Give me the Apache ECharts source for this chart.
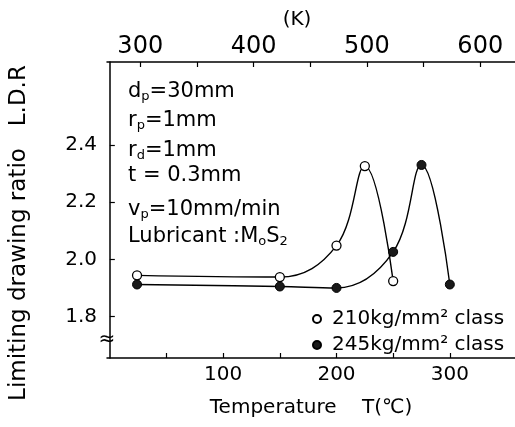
<!DOCTYPE html>
<html><head><meta charset="utf-8">
<script src="https://cdn.jsdelivr.net/npm/echarts@6/dist/echarts.min.js"></script>
<style>html,body{margin:0;padding:0;background:#fff}#c{width:515px;height:427px}</style>
</head><body><div id="c"></div>
<script>
const FONT = "'DejaVu Sans','Noto Sans CJK SC',sans-serif";
// data (Temperature in °C, limiting drawing ratio)
const temp210 = [24, 150, 200, 225, 250];
const ldr210 = [1.944, 1.938, 2.048, 2.326, 1.924];
const temp245 = [24, 150, 200, 250, 275, 300];
const ldr245 = [1.912, 1.905, 1.900, 2.026, 2.330, 1.912];
const seriesNames = ['210kg/mm² class', '245kg/mm² class'];
// axes
const xTickC = [50, 100, 150, 200, 250, 300];
const xLabelC = [100, 200, 300];
const topTickK = [300, 350, 400, 450, 500, 550, 600];
const topLabelK = [300, 400, 500, 600];
const yTicks = [1.8, 2.0, 2.2, 2.4];
const K0 = 273.15;
const X_MIN = -2.5, X_MAX = 357.5, Y_MIN = 1.655, Y_MAX = 2.69;
// annotation lines
const notes = ['d{s|p}=30mm', 'r{s|p}=1mm', 'r{s|d}=1mm', 't = 0.3mm', 'v{s|p}=10mm/min', 'Lubricant :M{s|o}S{s|2}'];
const noteY = [92, 121, 151, 176, 210, 237];

const zip = (a, b) => a.map((v, i) => [v, b[i]]);
const txt = { color: '#000', fontFamily: FONT };

const chart = echarts.init(document.getElementById('c'), null, { renderer: 'canvas' });
chart.setOption({
  animation: false,
  backgroundColor: '#fff',
  grid: { left: 107, right: 0, top: 62, bottom: 69, containLabel: false },
  xAxis: [
    {
      type: 'value', position: 'bottom', min: X_MIN, max: X_MAX,
      axisLine: { lineStyle: { color: '#000', width: 1.5 } },
      axisTick: { inside: true, length: 5, customValues: xTickC, lineStyle: { color: '#000', width: 1.2 } },
      axisLabel: { customValues: xLabelC, fontSize: 20, margin: 7, ...txt },
      splitLine: { show: false },
      name: 'Temperature    T(℃)', nameLocation: 'middle', nameGap: 40,
      nameTextStyle: { fontSize: 20, ...txt }
    },
    {
      type: 'value', position: 'top', min: X_MIN + K0, max: X_MAX + K0,
      axisLine: { lineStyle: { color: '#000', width: 1.5 } },
      axisTick: { inside: true, length: 5, customValues: topTickK, lineStyle: { color: '#000', width: 1.2 } },
      axisLabel: { customValues: topLabelK, fontSize: 24, margin: 3, ...txt },
      splitLine: { show: false },
      name: '(K)', nameLocation: 'middle', nameGap: 30,
      nameTextStyle: { fontSize: 20, padding: [0, 28, 0, 0], ...txt }
    }
  ],
  yAxis: {
    type: 'value', min: Y_MIN, max: Y_MAX,
    axisLine: { show: true, lineStyle: { color: '#000', width: 1.5 } },
    axisTick: { show: true, inside: true, length: 5, customValues: yTicks, lineStyle: { color: '#000', width: 1.2 } },
    axisLabel: { customValues: yTicks, formatter: v => v.toFixed(1), fontSize: 20, margin: 10, ...txt },
    splitLine: { show: false }
  },
  legend: {
    orient: 'vertical', left: 307, top: 304, itemWidth: 20, itemHeight: 8, itemGap: 6,
    data: seriesNames,
    textStyle: { fontSize: 20, ...txt }
  },
  graphic: [
    ...notes.map((t, i) => ({
      type: 'text', x: 128, y: noteY[i], silent: true,
      style: {
        text: t, fontSize: 21, fontFamily: FONT, fill: '#000', verticalAlign: 'middle',
        rich: { s: { fontSize: 13, fontFamily: FONT, fill: '#000', padding: [10, 0, 0, 0] } }
      }
    })),
    {
      type: 'text', x: 19, y: 233, rotation: Math.PI / 2, silent: true,
      style: { text: 'Limiting drawing ratio   L.D.R', fontSize: 23, fontFamily: FONT, fill: '#000', align: 'center', verticalAlign: 'middle' }
    },
    {
      type: 'text', x: 107, y: 340, silent: true,
      style: { text: '≈', fontSize: 20, fontFamily: FONT, fill: '#000', align: 'center', verticalAlign: 'middle' }
    }
  ],
  series: [
    {
      type: 'line', name: 'curve210', data: zip(temp210, ldr210), smooth: 0.4, showSymbol: false, silent: true,
      lineStyle: { color: '#000', width: 1.4 }, z: 2
    },
    {
      type: 'line', name: 'curve245', data: zip(temp245, ldr245), smooth: 0.4, showSymbol: false, silent: true,
      lineStyle: { color: '#000', width: 1.4 }, z: 2
    },
    {
      type: 'scatter', name: seriesNames[0], data: zip(temp210, ldr210), symbol: 'circle', symbolSize: 9,
      itemStyle: { color: '#fff', borderColor: '#000', borderWidth: 1.3, opacity: 1 }, z: 5
    },
    {
      type: 'scatter', name: seriesNames[1], data: zip(temp245, ldr245), symbol: 'circle', symbolSize: 9,
      itemStyle: { color: '#1a1a1a', borderColor: '#000', borderWidth: 1, opacity: 1 }, z: 5
    }
  ]
});
</script></body></html>
